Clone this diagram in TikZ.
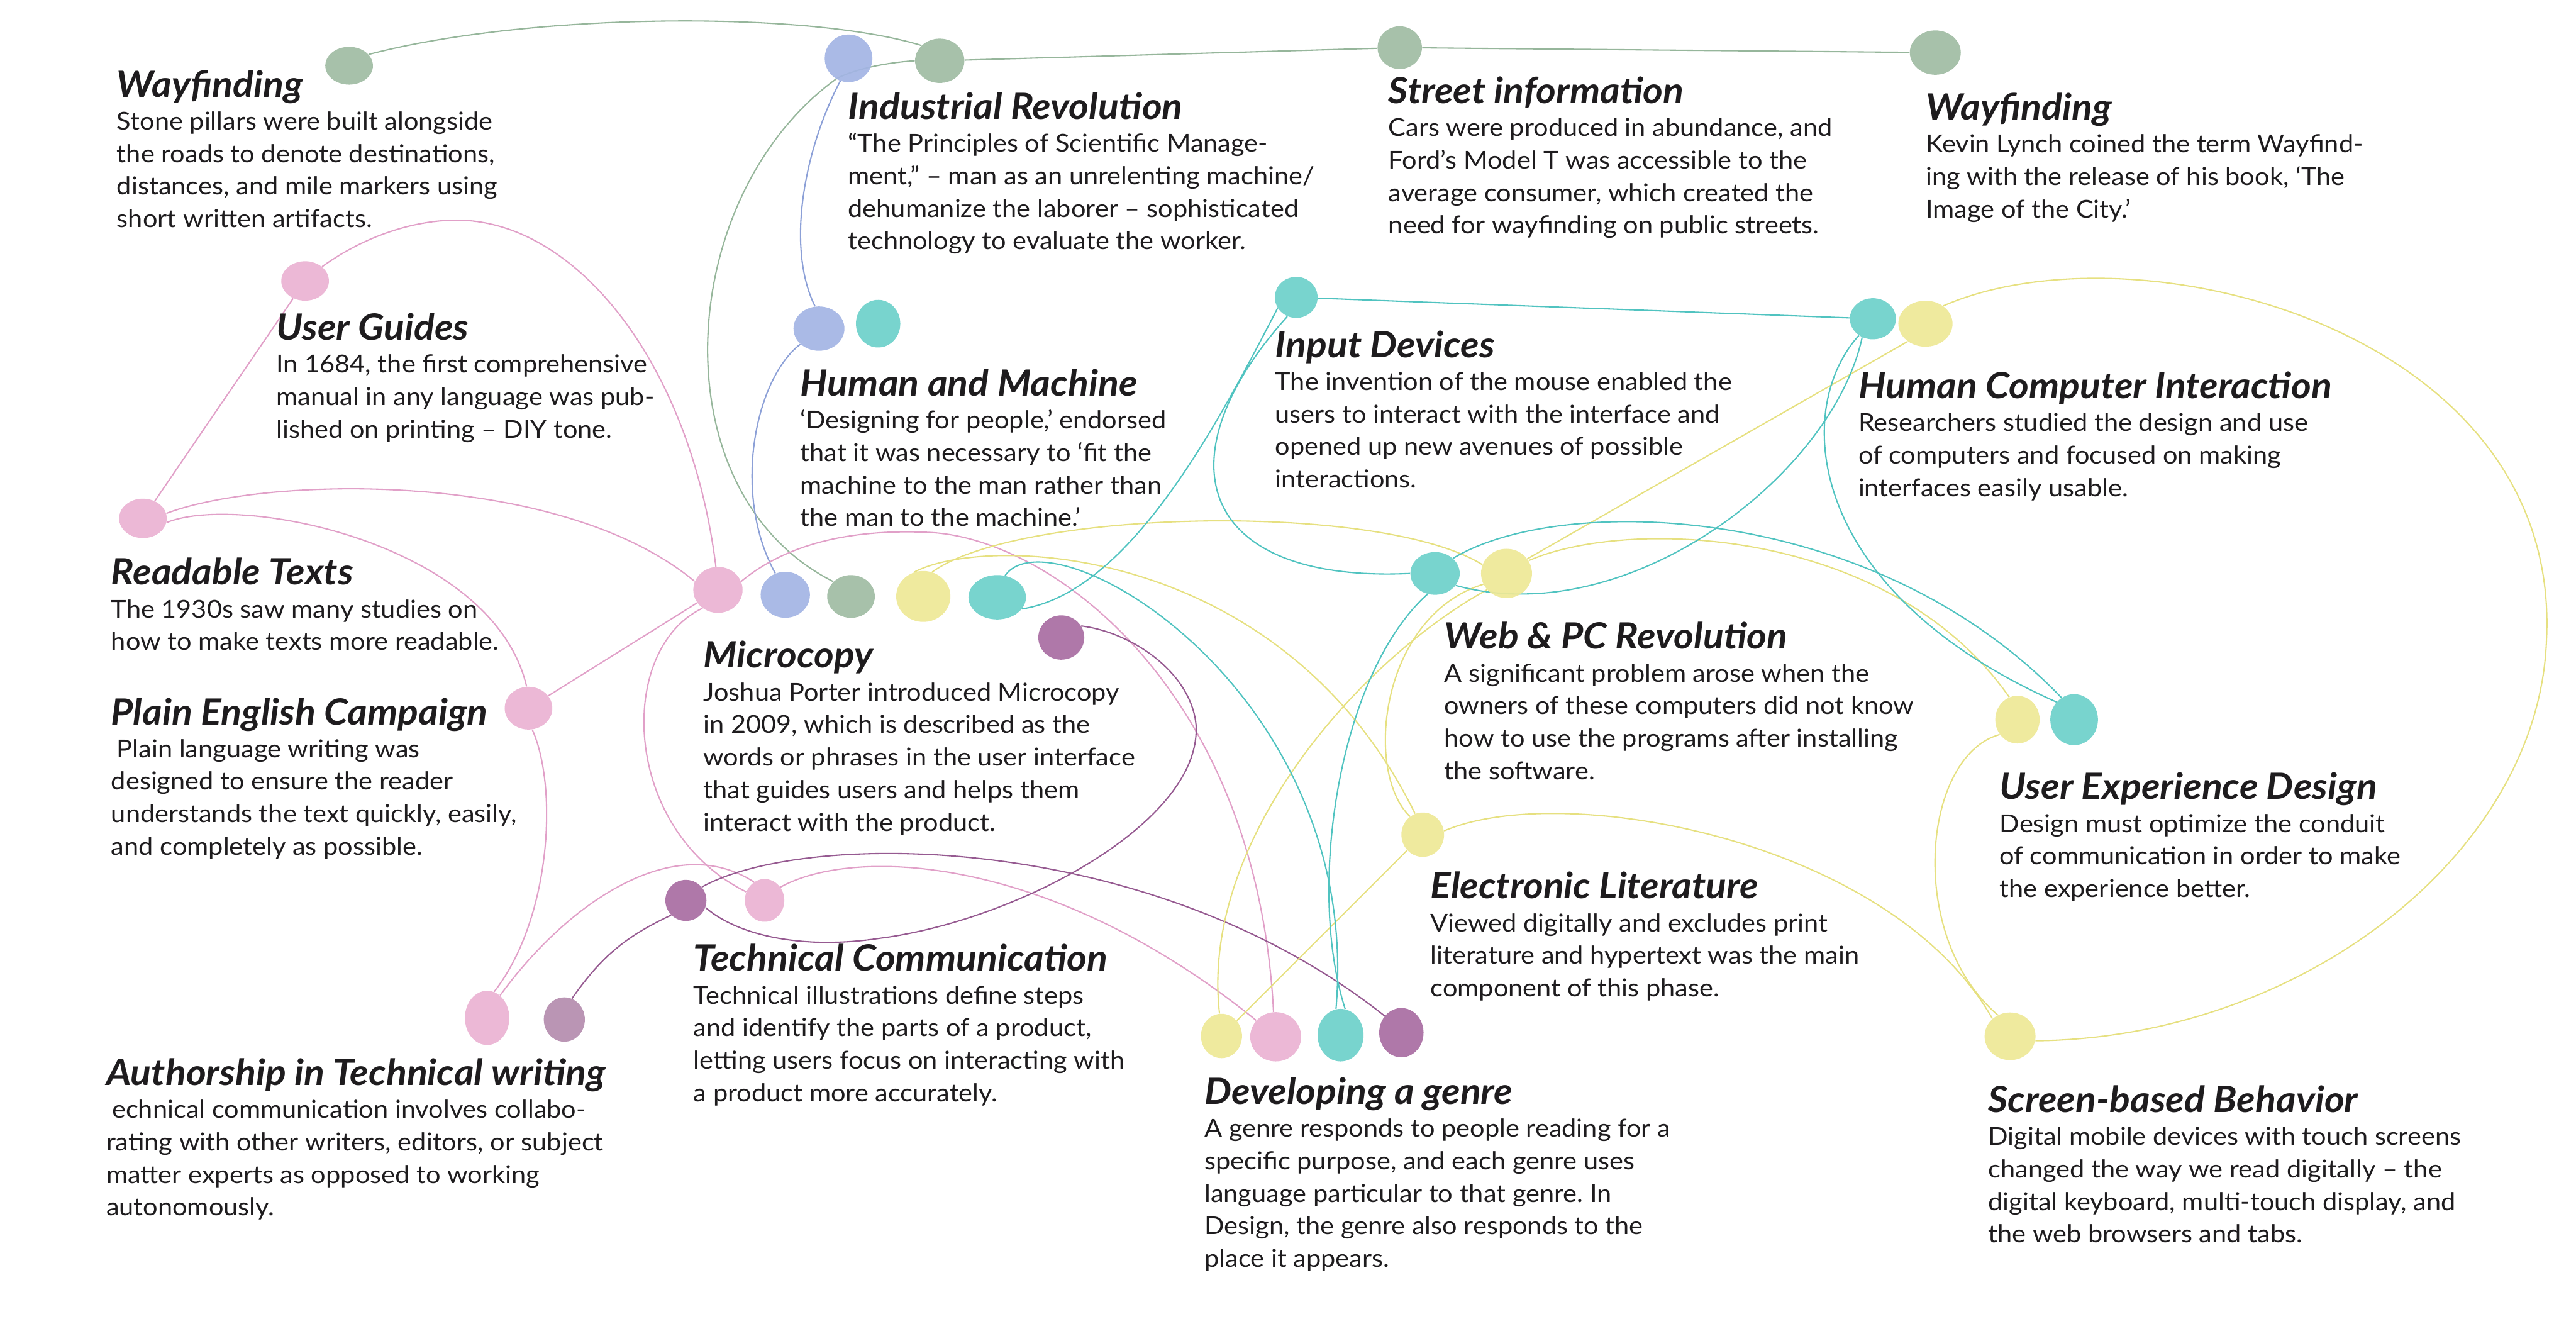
\documentclass[tikz,border=0pt]{standalone}
\usepackage{fontspec}
\setmainfont{Lato}[FakeStretch=1.06]
\usetikzlibrary{shapes.geometric}
\frenchspacing

% blob colours
\definecolor{sage}{RGB}{160,188,163}
\definecolor{peri}{RGB}{163,180,228}
\definecolor{rose}{RGB}{234,178,210}
\definecolor{lemon}{RGB}{238,232,150}
\definecolor{aqua}{RGB}{108,208,202}
\definecolor{plum}{RGB}{168,108,162}
\definecolor{mauve}{RGB}{180,140,174}
% line colours
\definecolor{sageline}{RGB}{150,182,155}
\definecolor{periline}{RGB}{140,160,215}
\definecolor{roseline}{RGB}{225,160,200}
\definecolor{lemonline}{RGB}{230,224,128}
\definecolor{aqualine}{RGB}{80,195,192}
\definecolor{plumline}{RGB}{150,90,145}
\definecolor{ink}{RGB}{30,28,30}

\pgfdeclarelayer{bg}
\pgfsetlayers{bg,main}

\newcommand{\headfont}{\fontsize{22}{25}\selectfont\bfseries\itshape}
\newcommand{\bodyfont}{\fontsize{15}{19.8}\selectfont}
\newcommand{\blurb}[1]{\parbox[t]{420pt}{#1}}

\begin{document}
\begin{tikzpicture}[x=1pt, y=1pt,
    blob/.style={ellipse, inner sep=0pt, minimum width=29pt, minimum height=27pt, fill=#1, fill opacity=0.92},
    conn/.style={draw=#1, line width=0.8pt},
    head/.style={anchor=base west, inner sep=0pt, font=\headfont, text=ink},
    body/.style={anchor=base west, inner sep=0pt, font=\bodyfont, text=ink}]

    % Fix the page size
    \useasboundingbox (0,0) rectangle (1568,-816);

    % Place the blobs
    \node[blob=sage, minimum height=23pt] (wayL) at (212.5,-40) {};
    \node[blob=peri, minimum height=29pt] (indB) at (516.5,-35.5) {};
    \node[blob=sage, minimum width=30pt] (indG) at (572,-37) {};
    \node[blob=sage, minimum width=27pt, minimum height=26pt] (street) at (852,-29) {};
    \node[blob=sage, minimum width=31pt] (wayR) at (1178,-32) {};
    \node[blob=rose, minimum height=24pt] (guides) at (185.7,-171) {};
    \node[blob=peri, minimum width=31pt] (humB) at (498.5,-200) {};
    \node[blob=aqua, minimum width=27pt, minimum height=29pt] (humT) at (534.5,-197) {};
    \node[blob=aqua, minimum width=26pt, minimum height=25pt] (input) at (789,-181) {};
    \node[blob=aqua, minimum width=28pt, minimum height=25pt] (hciT) at (1140,-194) {};
    \node[blob=lemon, minimum width=33pt, minimum height=28pt] (hciY) at (1172,-197) {};
    \node[blob=rose, minimum height=24pt] (read) at (87,-315.5) {};
    \node[blob=rose, minimum width=30pt, minimum height=28pt] (micP) at (437,-359) {};
    \node[blob=peri, minimum width=30pt, minimum height=28pt] (micB) at (478,-362) {};
    \node[blob=sage, minimum height=26pt] (micG) at (518,-363) {};
    \node[blob=lemon, minimum width=33pt, minimum height=31pt] (micY) at (562,-363) {};
    \node[blob=aqua, minimum width=35pt] (micT) at (607,-363.5) {};
    \node[blob=plum, minimum width=28pt] (micV) at (646,-388) {};
    \node[blob=rose, minimum height=26pt] (plain) at (321.7,-431) {};
    \node[blob=aqua, minimum width=30pt, minimum height=26pt] (webT) at (873.5,-349) {};
    \node[blob=lemon, minimum width=31pt, minimum height=30pt] (webY) at (917,-349) {};
    \node[blob=lemon, minimum width=27pt, minimum height=29pt] (uxY) at (1228,-438) {};
    \node[blob=aqua, minimum height=31pt] (uxT) at (1262.5,-438) {};
    \node[blob=lemon, minimum width=26pt] (elit) at (866,-508) {};
    \node[blob=plum, minimum width=25pt, minimum height=25pt] (tcV) at (417.5,-548) {};
    \node[blob=rose, minimum width=24pt, minimum height=26pt] (tcP) at (465.4,-548) {};
    \node[blob=rose, minimum width=27pt, minimum height=33pt] (authP) at (296.5,-619.5) {};
    \node[blob=mauve, minimum width=25pt] (authV) at (343.5,-620.5) {};
    \node[blob=lemon, minimum width=25pt] (genY) at (743.5,-630.5) {};
    \node[blob=rose, minimum width=31pt, minimum height=30pt] (genP) at (776.5,-631) {};
    \node[blob=aqua, minimum width=28pt, minimum height=32pt] (genT) at (816,-630) {};
    \node[blob=plum, minimum width=27pt, minimum height=30pt] (genV) at (853,-628.5) {};
    \node[blob=lemon, minimum width=31pt, minimum height=29pt] (screen) at (1223.5,-630.7) {};

    % Draw the connectors behind the blobs
    \begin{pgfonlayer}{bg}
    % green
    \draw[conn=sageline] (wayL.30) .. controls (320,-8) and (490,-6) .. (indG.140);
    \draw[conn=sageline] (indG) -- (street);
    \draw[conn=sageline] (street) -- (wayR);
    \draw[conn=sageline] (indG.west) .. controls (540,-38) and (520,-42) .. (509,-48)
        .. controls (410,-120) and (400,-300) .. (micG.140);
    % blue
    \draw[conn=periline] (indB.-110) .. controls (490,-90) and (478,-150) .. (humB.100);
    \draw[conn=periline] (humB.220) .. controls (460,-230) and (445,-300) .. (micB.115);
    % pink
    \draw[conn=roseline] (guides.40) .. controls (220,-145) and (250,-134) .. (278,-134)
        .. controls (350,-134) and (420,-220) .. (micP.95);
    \draw[conn=roseline] (guides) -- (read);
    \draw[conn=roseline] (read.12) .. controls (160,-290) and (340,-285) .. (micP.160);
    \draw[conn=roseline] (read.-10) .. controls (145,-300) and (300,-330) .. (plain.95);
    \draw[conn=roseline] (plain) -- (micP);
    \draw[conn=roseline] (plain.-80) .. controls (340,-480) and (335,-560) .. (authP.75);
    \draw[conn=roseline] (authP.60) .. controls (345,-550) and (410,-505) .. (tcP.120);
    \draw[conn=roseline] (micP.230) .. controls (375,-395) and (378,-505) .. (tcP.155);
    \draw[conn=roseline] (micP.20) .. controls (480,-330) and (520,-322) .. (565,-324)
        .. controls (640,-327) and (765,-420) .. (genP.95);
    \draw[conn=roseline] (tcP.40) .. controls (520,-515) and (640,-520) .. (genP.140);
    % purple
    \draw[conn=plumline] (micV.30) .. controls (690,-385) and (725,-410) .. (728,-441)
        .. controls (732,-500) and (620,-560) .. (536,-571)
        .. controls (490,-578) and (450,-570) .. (tcV.-20);
    \draw[conn=plumline] (tcV.40) .. controls (490,-505) and (700,-505) .. (genV.135);
    \draw[conn=plumline] (tcV.225) to[bend right=15] (authV.70);
    % yellow
    \draw[conn=lemonline] (micY.70) .. controls (620,-310) and (840,-305) .. (webY.160);
    \draw[conn=lemonline] (micY.110) .. controls (600,-325) and (780,-330) .. (elit.110);
    \draw[conn=lemonline] (webY.220) .. controls (830,-400) and (730,-510) .. (genY.95);
    \draw[conn=lemonline] (webY.205) .. controls (840,-375) and (830,-470) .. (elit.125);
    \draw[conn=lemonline] (elit) -- (genY);
    \draw[conn=lemonline] (hciY.225) -- (webY.35);
    \draw[conn=lemonline] (hciY.45) .. controls (1300,-135) and (1560,-200) .. (1550,-390)
        .. controls (1545,-520) and (1400,-632) .. (screen.-10);
    \draw[conn=lemonline] (webY.30) .. controls (990,-315) and (1150,-320) .. (uxY.110);
    \draw[conn=lemonline] (uxY.220) .. controls (1170,-460) and (1160,-570) .. (screen.120);
    \draw[conn=lemonline] (elit.10) .. controls (950,-475) and (1150,-510) .. (screen.135);
    % teal
    \draw[conn=aqualine] (input) -- (hciT);
    \draw[conn=aqualine] (input.210) .. controls (745,-250) and (690,-360) .. (micT.-25);
    \draw[conn=aqualine] (input.245) .. controls (705,-280) and (730,-355) .. (webT.180);
    \draw[conn=aqualine] (micT.70) .. controls (640,-310) and (830,-420) .. (genT.100);
    \draw[conn=aqualine] (hciT.240) .. controls (1115,-290) and (990,-385) .. (webT.-30);
    \draw[conn=aqualine] (hciT.230) .. controls (1090,-250) and (1100,-360) .. (uxT.135);
    \draw[conn=aqualine] (webT.40) .. controls (950,-300) and (1140,-305) .. (uxT.120);
    \draw[conn=aqualine] (webT.250) .. controls (815,-410) and (795,-540) .. (genT.80);
    \end{pgfonlayer}

    % Place the titles and their texts
    \node[head] (wayLh) at (71,-59) {Wayfinding};
    \node[body] (wayLb) at ([yshift=-20pt]wayLh.base west) {\blurb{Stone pillars were built alongside\\the roads to denote destinations,\\distances, and mile markers using\\short written artifacts.}};

    \node[head] (indh) at (516,-72.5) {Industrial Revolution};
    \node[body] (indb) at ([yshift=-20pt]indh.base west) {\blurb{“The Principles of Scientific Manage-\\ment,” – man as an unrelenting machine/\\dehumanize the laborer – sophisticated\\technology to evaluate the worker.}};

    \node[head] (streeth) at (845,-63) {Street information};
    \node[body] (streetb) at ([yshift=-20pt]streeth.base west) {\blurb{Cars were produced in abundance, and\\Ford’s Model T was accessible to the\\average consumer, which created the\\need for wayfinding on public streets.}};

    \node[head] (wayRh) at (1172,-73) {Wayfinding};
    \node[body] (wayRb) at ([yshift=-20pt]wayRh.base west) {\blurb{Kevin Lynch coined the term Wayfind-\\ing with the release of his book, ‘The\\Image of the City.’}};

    \node[head] (guidesh) at (168,-207) {User Guides};
    \node[body] (guidesb) at ([yshift=-20pt]guidesh.base west) {\blurb{In 1684, the first comprehensive\\manual in any language was pub-\\lished on printing – DIY tone.}};

    \node[head] (humh) at (487,-241) {Human and Machine};
    \node[body] (humb) at ([yshift=-20pt]humh.base west) {\blurb{‘Designing for people,’ endorsed\\that it was necessary to ‘fit the\\machine to the man rather than\\the man to the machine.’}};

    \node[head] (inputh) at (776,-217.5) {Input Devices};
    \node[body] (inputb) at ([yshift=-20pt]inputh.base west) {\blurb{The invention of the mouse enabled the\\users to interact with the interface and\\opened up new avenues of possible\\interactions.}};

    \node[head] (hcih) at (1131,-242.5) {Human Computer Interaction};
    \node[body] (hcib) at ([yshift=-20pt]hcih.base west) {\blurb{Researchers studied the design and use\\of computers and focused on making\\interfaces easily usable.}};

    \node[head] (readh) at (67.5,-356) {Readable Texts};
    \node[body] (readb) at ([yshift=-20pt]readh.base west) {\blurb{The 1930s saw many studies on\\how to make texts more readable.}};

    \node[head] (mich) at (428,-406.5) {Microcopy};
    \node[body] (micb) at ([yshift=-20pt]mich.base west) {\blurb{Joshua Porter introduced Microcopy\\in 2009, which is described as the\\words or phrases in the user interface\\that guides users and helps them\\interact with the product.}};

    \node[head] (plainh) at (67.5,-441) {Plain English Campaign};
    \node[body] (plainb) at ([yshift=-20pt]plainh.base west) {\blurb{\hspace{3.5pt}Plain language writing was\\designed to ensure the reader\\understands the text quickly, easily,\\and completely as possible.}};

    \node[head] (webh) at (879,-395) {Web \& PC Revolution};
    \node[body] (webb) at ([yshift=-20pt]webh.base west) {\blurb{A significant problem arose when the\\owners of these computers did not know\\how to use the programs after installing\\the software.}};

    \node[head] (uxh) at (1217,-486.5) {User Experience Design};
    \node[body] (uxb) at ([yshift=-20pt]uxh.base west) {\blurb{Design must optimize the conduit\\of communication in order to make\\the experience better.}};

    \node[head] (elith) at (870.5,-547) {Electronic Literature};
    \node[body] (elitb) at ([yshift=-20pt]elith.base west) {\blurb{Viewed digitally and excludes print\\literature and hypertext was the main\\component of this phase.}};

    \node[head] (tch) at (422,-591) {Technical Communication};
    \node[body] (tcb) at ([yshift=-20pt]tch.base west) {\blurb{Technical illustrations define steps\\and identify the parts of a product,\\letting users focus on interacting with\\a product more accurately.}};

    \node[head] (authh) at (64.5,-660.5) {Authorship in Technical writing};
    \node[body] (authb) at ([yshift=-20pt]authh.base west) {\blurb{\hspace{3.5pt}echnical communication involves collabo-\\rating with other writers, editors, or subject\\matter experts as opposed to working\\autonomously.}};

    \node[head] (genh) at (733,-672) {Developing a genre};
    \node[body] (genb) at ([yshift=-20pt]genh.base west) {\blurb{A genre responds to people reading for a\\specific purpose, and each genre uses\\language particular to that genre. In\\Design, the genre also responds to the\\place it appears.}};

    \node[head] (screenh) at (1210,-677) {Screen-based Behavior};
    \node[body] (screenb) at ([yshift=-20pt]screenh.base west) {\blurb{Digital mobile devices with touch screens\\changed the way we read digitally – the\\digital keyboard, multi-touch display, and\\the web browsers and tabs.}};

\end{tikzpicture}
\end{document}
